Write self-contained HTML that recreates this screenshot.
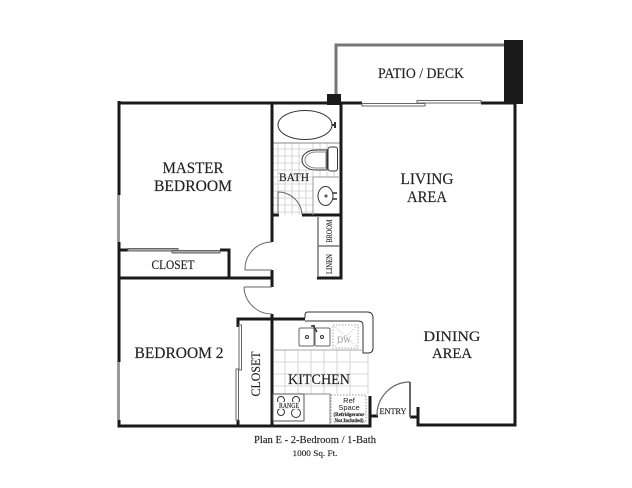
<!DOCTYPE html>
<html><head><meta charset="utf-8"><style>
html,body{margin:0;padding:0;background:#fff}
svg{display:block}
text{font-family:"Liberation Serif",serif;fill:#222;text-anchor:middle;stroke:#222;stroke-width:.15}
</style></head><body>
<svg width="632" height="488" viewBox="0 0 632 488" xmlns="http://www.w3.org/2000/svg">
<rect width="632" height="488" fill="#fff"/>
<!-- tile -->
<g stroke="#ccc" stroke-width="0.8" fill="none">
<path d="M273 149H328M273 156H302M273 163H302M273 170H312M273 177H340M273 184H313M273 191H313M273 198H313M273 205H313M273 212H313M278 143V215M285 143V215M292 143V215M299 143V215M306 170V215M313 143V150M320 143V150M327 143V150M313 170V177M320 170V177M327 172V177M334 172V177"/>
<path d="M273 362H368M273 374H368M273 386H368M285 350V394M298 350V394M311 350V394M324 350V394M337 350V394M350 350V394M368 353V394"/>
</g>
<path d="M273 143H340" stroke="#888" stroke-width="1" fill="none"/>
<!-- gray patio, windows -->
<path d="M336 95V45H505" fill="none" stroke="#777" stroke-width="3"/>
<path d="M118.500 195V242M118.500 362V420" fill="none" stroke="#999" stroke-width="3"/>
<!-- walls -->
<g fill="none" stroke="#1a1a1a" stroke-width="3">
<path d="M118 103H362M481 103H515V425H418V407"/>
<path d="M119 101V195M119 242V362M119 420V426H370V396"/>
<path d="M119 278H272M272 103V242M272 270V287M272 314V426"/>
<path d="M119 250H128M220 250H229V278"/>
<path d="M238 426V420M238 327V319H305"/>
<path d="M272 215H279M302 215H341M341 103V278H317"/>
<path d="M370 416H378M410 417H418"/>
</g>
<rect x="504" y="40" width="19" height="64" fill="#1a1a1a"/>
<rect x="327" y="94" width="14" height="11" fill="#1a1a1a"/>
<!-- sliding doors -->
<g fill="#fff" stroke="#666" stroke-width="1">
<rect x="362" y="103.500" width="63" height="2.500"/>
<rect x="417" y="100.500" width="64" height="2.500"/>
<rect x="128" y="248.500" width="50" height="2.500" fill="#aaa"/>
<rect x="172" y="250.500" width="48" height="2.500" fill="#aaa"/>
<rect x="239" y="325" width="2.500" height="45"/>
<rect x="236" y="369" width="2.500" height="51"/>
</g>
<path d="M318 217V277M318 246H340" fill="none" stroke="#777" stroke-width="1.500"/>
<!-- doors -->
<g fill="none" stroke="#666" stroke-width="1">
<path d="M272 242A27 27 0 0 0 245 270H272"/>
<path d="M244 287H272M244 287A28 28 0 0 0 272 314"/>
<path d="M278 215V192A24 24 0 0 1 302 215"/>
<path d="M377 416A33 33 0 0 1 410 382" stroke-width="1.200"/>
<path d="M410 382V417" stroke-width="2"/>
</g>
<!-- fixtures -->
<g fill="none" stroke="#333" stroke-width="1">
<ellipse cx="305" cy="125" rx="27" ry="14.500"/>
<path d="M332 125H336M335 122V128" stroke-width="2"/>
<rect x="328" y="147" width="9.500" height="24" rx="2.500" fill="#fff"/>
<path d="M327 150H316C307 150 302 155 302 160C302 165 307 170 316 170H327Z" fill="#fff"/>
<path d="M326 152H316C309 152 305 156 305 160C305 164 309 168 316 168H326Z" stroke="#888"/>
<path d="M313 215V177H340" stroke="#999"/>
<ellipse cx="325.500" cy="196" rx="7.500" ry="9.500" fill="#fff"/>
<path d="M333 193H337M333 199H337" stroke-width="1.500"/>
<circle cx="326" cy="196" r="1"/>
<!-- kitchen counter -->
<path d="M305 318V315Q305 312 308 312H367Q373 312 373 318V348Q373 353 368 353H363V325Q363 321 358 321H305"/>
<path d="M273 350H363" stroke="#aaa"/>
<rect x="299" y="328" width="15" height="18" rx="1.500" stroke="#666"/>
<rect x="315" y="328" width="15" height="18" rx="1.500" stroke="#666"/>
<circle cx="307" cy="337" r="1.500"/><circle cx="322" cy="337" r="1.500"/>
<path d="M313 325L317 332M311 326H315" stroke-width="1.500"/>
<rect x="333" y="325" width="25" height="23" stroke="#aaa" stroke-dasharray="1.500 1.500"/>
<path d="M333 325L358 348M358 325L333 348" stroke="#ccc" stroke-dasharray="1.500 1.500"/>
<rect x="273" y="394" width="31" height="27" stroke="#555" fill="#fff"/>
<circle cx="281" cy="400" r="3.500"/><circle cx="296" cy="400" r="3.500"/><circle cx="281" cy="412" r="3.500"/><circle cx="296" cy="413" r="4.500"/>
<path d="M304 394H330V424" stroke="#888"/>
<rect x="331" y="395" width="35" height="27" stroke="#999" stroke-dasharray="1.500 1.500" fill="#fff"/>
<rect x="278" y="402" width="22" height="7" fill="#fff" stroke="none"/>
</g>
<!-- labels -->
<text x="421" y="78" font-size="15" textLength="86" lengthAdjust="spacingAndGlyphs">PATIO / DECK</text>
<text x="193" y="173" font-size="15.500" textLength="61" lengthAdjust="spacingAndGlyphs">MASTER</text>
<text x="193" y="191" font-size="15.500" textLength="78" lengthAdjust="spacingAndGlyphs">BEDROOM</text>
<text x="427" y="184" font-size="15.500" textLength="53" lengthAdjust="spacingAndGlyphs">LIVING</text>
<text x="427" y="202" font-size="15.500" textLength="40" lengthAdjust="spacingAndGlyphs">AREA</text>
<text x="294" y="181" font-size="11.500" textLength="30" lengthAdjust="spacingAndGlyphs">BATH</text>
<text x="173" y="269" font-size="12.500" textLength="43" lengthAdjust="spacingAndGlyphs">CLOSET</text>
<text x="179" y="358" font-size="15.500" textLength="89" lengthAdjust="spacingAndGlyphs">BEDROOM 2</text>
<text x="452" y="341" font-size="15" textLength="57" lengthAdjust="spacingAndGlyphs">DINING</text>
<text x="452" y="358" font-size="15" textLength="40" lengthAdjust="spacingAndGlyphs">AREA</text>
<text x="319" y="384" font-size="15" textLength="62" lengthAdjust="spacingAndGlyphs">KITCHEN</text>
<text transform="translate(260 374) rotate(-90)" font-size="13" textLength="45" lengthAdjust="spacingAndGlyphs">CLOSET</text>
<text transform="translate(332 231) rotate(-90)" font-size="8" textLength="23" lengthAdjust="spacingAndGlyphs">BROOM</text>
<text transform="translate(332 264) rotate(-90)" font-size="8" textLength="20" lengthAdjust="spacingAndGlyphs">LINEN</text>
<text x="344" y="343" font-size="9" style="fill:#999;stroke:none" textLength="14" lengthAdjust="spacingAndGlyphs">DW</text>
<text x="289" y="408" font-size="7" textLength="20" lengthAdjust="spacingAndGlyphs">RANGE</text>
<text x="349" y="403" font-size="7.500" style="font-family:'Liberation Sans',sans-serif;stroke:none">Ref</text>
<text x="349" y="410" font-size="7.500" style="font-family:'Liberation Sans',sans-serif;stroke:none">Space</text>
<text x="349" y="416" font-size="5.500" font-weight="bold" textLength="31" lengthAdjust="spacingAndGlyphs">(Refridgerator</text>
<text x="349" y="422" font-size="5.500" font-weight="bold" textLength="29" lengthAdjust="spacingAndGlyphs">Not Included)</text>
<text x="393" y="414" font-size="8" textLength="27" lengthAdjust="spacingAndGlyphs">ENTRY</text>
<text x="315" y="443" font-size="10.500" textLength="122" lengthAdjust="spacingAndGlyphs">Plan E  -  2-Bedroom / 1-Bath</text>
<text x="315" y="456" font-size="8.500" textLength="45" lengthAdjust="spacingAndGlyphs">1000 Sq. Ft.</text>
</svg>
</body></html>
